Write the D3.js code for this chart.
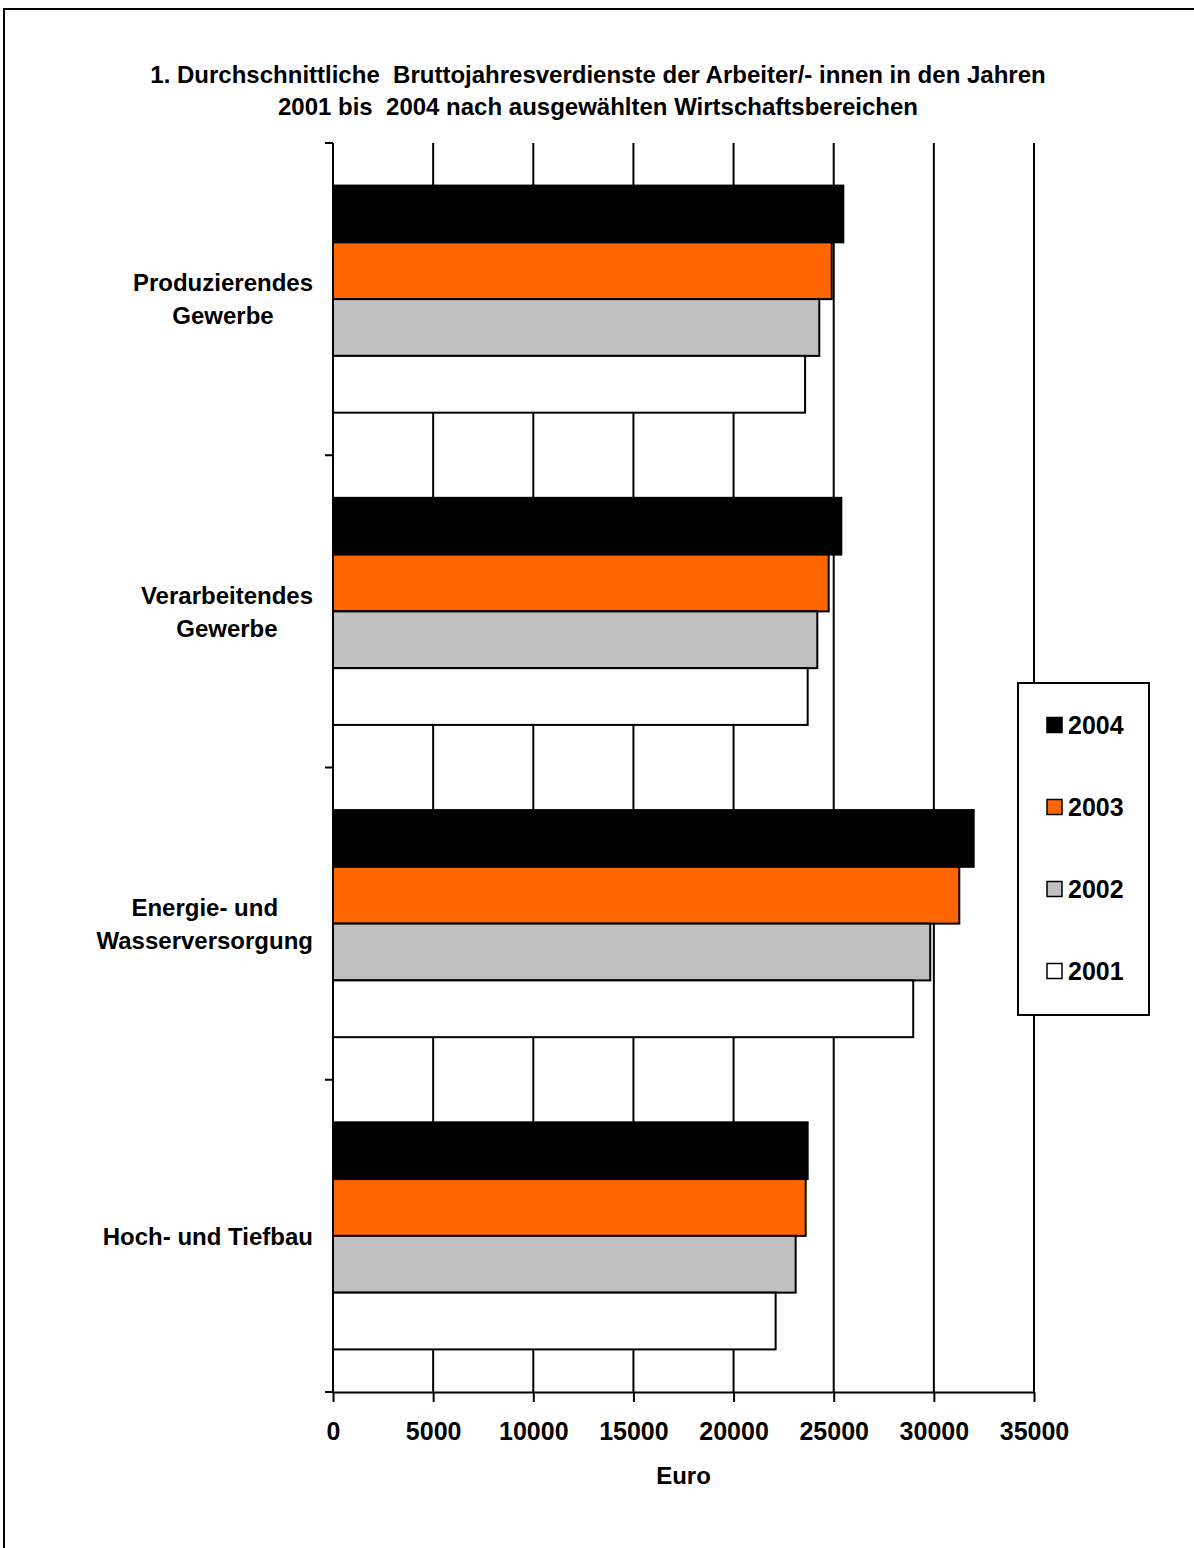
<!DOCTYPE html>
<html><head><meta charset="utf-8">
<script src="https://cdn.jsdelivr.net/npm/d3@7"></script>
<style>
body{margin:0;background:#fff;}
text{font-family:"Liberation Sans",Arial,sans-serif;font-weight:bold;fill:#000;white-space:pre;}
</style></head>
<body>
<svg id="c" width="1194" height="1548"></svg>
<script>
const categories = [
  ["Produzierendes","Gewerbe"],
  ["Verarbeitendes","Gewerbe"],
  ["Energie- und","Wasserversorgung"],
  ["Hoch- und Tiefbau"]
];
const years = ["2004","2003","2002","2001"];
const colors = ["#000000","#FF6600","#C0C0C0","#FFFFFF"];
const v2004 = [25480, 25380, 31990, 23700];
const v2003 = [24900, 24750, 31270, 23600];
const v2002 = [24280, 24180, 29820, 23100];
const v2001 = [23570, 23700, 28970, 22100];
const xTicks = [0,5000,10000,15000,20000,25000,30000,35000];
const titleLines = ["1. Durchschnittliche  Bruttojahresverdienste der Arbeiter/- innen in den Jahren",
                    "2001 bis  2004 nach ausgewählten Wirtschaftsbereichen"];
const xTitle = "Euro";

const series = [v2004, v2003, v2002, v2001];
const svg = d3.select("#c");

// outer frame
svg.append("rect").attr("x",4).attr("y",9).attr("width",1300).attr("height",1700)
  .attr("fill","none").attr("stroke","#000").attr("stroke-width",2);

// title
svg.append("text").attr("x",598).attr("y",0).attr("text-anchor","middle").attr("font-size",24)
  .selectAll("tspan").data(titleLines).join("tspan")
  .attr("x",598).attr("y",(d,i)=>83+i*32).text(d=>d);

const L=333, R=1034, T=143, B=1392;
const x = d3.scaleLinear().domain([0,35000]).range([L,R]);
const catKeys = categories.map(c=>c.join(" "));
const y = d3.scaleBand().domain(catKeys).range([T,B]);
const bw = y.bandwidth();
const barH = bw/5.5;
const off = (bw - 4*barH)/2;
const yi = d3.scaleBand().domain(years).range([off, bw-off]);

// gridlines
svg.append("g").selectAll("line").data(xTicks.slice(1)).join("line")
  .attr("x1",d=>x(d)).attr("x2",d=>x(d)).attr("y1",T).attr("y2",B)
  .attr("stroke","#000").attr("stroke-width",2);

// bars
const barData = [];
catKeys.forEach((c,ci)=>years.forEach((yr,yi2)=>barData.push({c,yr,v:series[yi2][ci],col:colors[yi2]})));
svg.append("g").selectAll("rect").data(barData).join("rect")
  .attr("x",x(0)).attr("y",d=>y(d.c)+yi(d.yr))
  .attr("width",d=>x(d.v)-x(0)).attr("height",yi.bandwidth())
  .attr("fill",d=>d.col).attr("stroke","#000").attr("stroke-width",2);

// y axis
const yb = catKeys.map(c=>y(c)).concat([B]);
svg.append("line").attr("x1",L).attr("x2",L).attr("y1",T).attr("y2",B).attr("stroke","#000").attr("stroke-width",2);
svg.append("g").selectAll("line").data(yb).join("line")
  .attr("x1",L-8).attr("x2",L).attr("y1",d=>d).attr("y2",d=>d).attr("stroke","#000").attr("stroke-width",2);

// category labels
categories.forEach((lines,ci)=>{
  const cy = y(catKeys[ci]) + bw/2;
  const g = svg.append("g");
  const n = lines.length;
  const ts = lines.map((ln,li)=>g.append("text").attr("font-size",24).attr("text-anchor","middle")
     .attr("y", cy + (li-(n-1)/2)*33).attr("dy","0.36em").text(ln));
  const maxW = d3.max(ts, t=>t.node().getComputedTextLength());
  ts.forEach(t=>t.attr("x", 313 - maxW/2));
});

// x axis
const xa = svg.append("g").attr("transform",`translate(0,${B})`)
  .call(d3.axisBottom(x).tickValues(xTicks).tickFormat(d3.format("d")).tickSize(10).tickPadding(20).tickSizeOuter(0));
xa.attr("font-family",null).attr("font-size",null);
xa.select(".domain").attr("stroke","#000").attr("stroke-width",2);
xa.selectAll(".tick line").attr("stroke","#000").attr("stroke-width",2);
xa.selectAll("text").attr("font-size",25);
svg.append("text").attr("x",(L+R)/2).attr("y",1475).attr("dy","0.36em").attr("text-anchor","middle")
  .attr("font-size",24).text(xTitle);

// legend
svg.append("rect").attr("x",1018).attr("y",683).attr("width",131).attr("height",332)
  .attr("fill","#fff").attr("stroke","#000").attr("stroke-width",2);
const lg = svg.append("g").selectAll("g").data(years).join("g")
  .attr("transform",(d,i)=>`translate(1047,${725+i*82})`);
lg.append("rect").attr("x",0).attr("y",-7.5).attr("width",15).attr("height",15)
  .attr("fill",(d,i)=>colors[i]).attr("stroke","#000").attr("stroke-width",1.5);
lg.append("text").attr("x",21).attr("dy","0.36em").attr("font-size",25).text(d=>d);
</script>
</body></html>
